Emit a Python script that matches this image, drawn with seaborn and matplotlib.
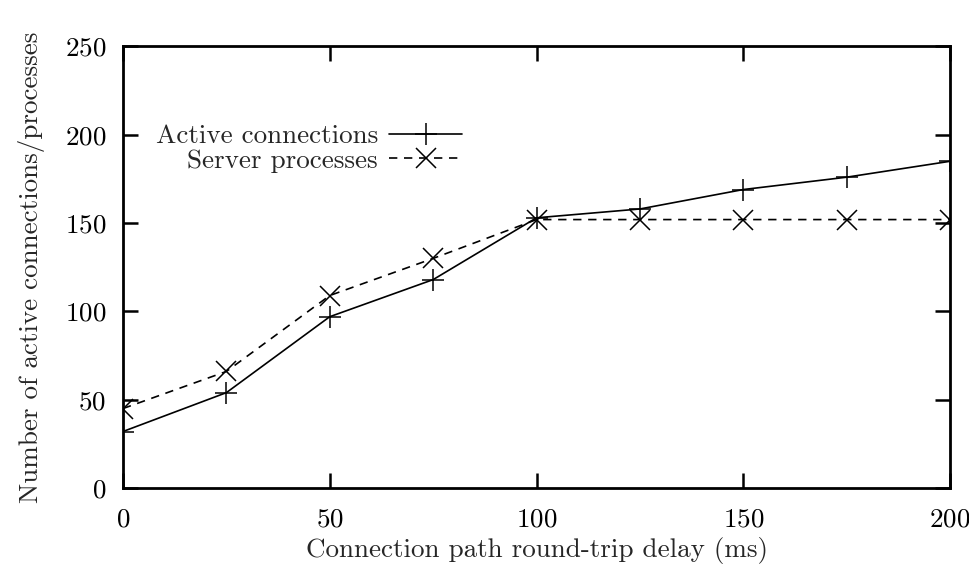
import matplotlib
matplotlib.use("Agg")
import matplotlib.pyplot as plt
import seaborn as sns
import pandas as pd

# Data
delay_ms = [0, 25, 50, 75, 100, 125, 150, 175, 200]
active_connections = [32, 54, 97, 118, 153, 158, 169, 176, 185]
server_processes = [45, 66, 109, 130, 152, 152, 152, 152, 152]

sns.set_theme(style="ticks")
plt.rcParams["font.family"] = ["cmr10", "DejaVu Serif"]
plt.rcParams["axes.formatter.use_mathtext"] = True
plt.rcParams["mathtext.fontset"] = "cm"

df = pd.DataFrame({
    "delay": delay_ms,
    "active": active_connections,
    "server": server_processes,
})

fs = 19.5

fig = plt.figure(figsize=(9.7, 5.67), dpi=100)
ax = fig.add_axes([0.1268, 0.1393, 0.8526, 0.7787])

sns.lineplot(data=df, x="delay", y="active", ax=ax, color="black",
             marker="+", markersize=16, markeredgewidth=1.1,
             markeredgecolor="black", linewidth=1.2,
             label="Active connections")
sns.lineplot(data=df, x="delay", y="server", ax=ax, color="black",
             marker="x", markersize=14, markeredgewidth=1.1,
             markeredgecolor="black", linewidth=1.2,
             linestyle=(0, (5, 4)), label="Server processes")

ax.set_xlim(0, 200)
ax.set_ylim(0, 250)
ax.set_xticks([0, 50, 100, 150, 200])
ax.set_yticks([0, 50, 100, 150, 200, 250])
ax.tick_params(direction="in", length=11, width=1.8, labelsize=fs,
               top=True, right=True, colors="black")
ax.tick_params(axis="x", pad=14)
ax.tick_params(axis="y", pad=12)
for s in ax.spines.values():
    s.set_linewidth(2)
    s.set_color("black")

ax.set_xlabel("Connection path round-trip delay (ms)", fontsize=fs, labelpad=4)
ax.set_ylabel("Number of active connections/processes", fontsize=fs, labelpad=14)

ax.legend(loc="upper right", bbox_to_anchor=(0.41, 0.824), frameon=False,
          markerfirst=False, fontsize=fs, handlelength=2.7,
          handletextpad=0.4, labelspacing=0.02, borderpad=0,
          borderaxespad=0)

fig.savefig("out.png", dpi=100)
